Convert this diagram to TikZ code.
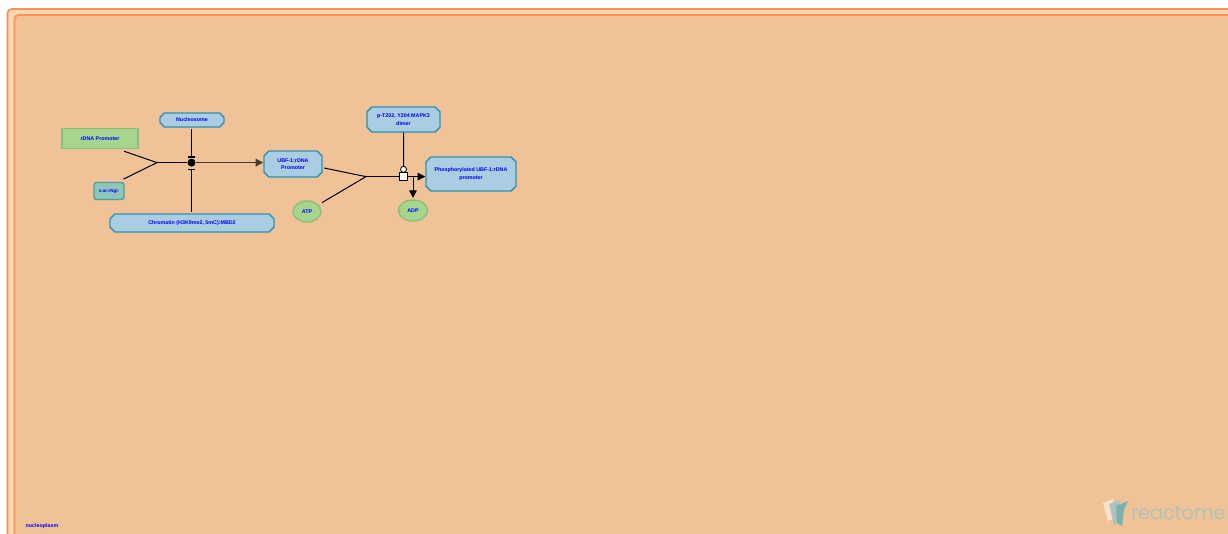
\documentclass[tikz,border=0pt]{standalone}
\usepackage{fontspec}
\setmainfont{Liberation Sans}
\newfontfamily\logofont{Poppins Light}
\usepackage{xcolor}
\usetikzlibrary{shapes.misc,shapes.geometric,arrows.meta}
\definecolor{compline}{HTML}{F9924F}
\definecolor{compouter}{HTML}{F6D6B4}
\definecolor{compinner}{HTML}{EFC298}
\definecolor{cplxfill}{HTML}{A9CEE2}
\definecolor{cplxline}{HTML}{3090B0}
\definecolor{chemfill}{HTML}{A6D68D}
\definecolor{chemline}{HTML}{8FBE7C}
\definecolor{rnafill}{HTML}{8EC7B9}
\definecolor{rnaline}{HTML}{4FA090}
\definecolor{logotext}{HTML}{A3C3BE}
\begin{document}
\begin{tikzpicture}[x=0.75pt,y=-0.75pt,>={Triangle[length=5.7pt,width=5.7pt]}]
\tikzstyle{every node}+=[inner sep=0pt,align=center,text=blue,font=\bfseries\fontsize{4}{5.6}\selectfont]
\tikzstyle{cplx}=[draw=cplxline,fill=cplxfill,line width=1.1pt,chamfered rectangle,chamfered rectangle xsep=1.8pt,chamfered rectangle ysep=1.8pt]
\tikzstyle{chem}=[draw=chemline,fill=chemfill,line width=1.1pt,ellipse]
\tikzstyle{conn}=[black,line width=0.75pt]
\useasboundingbox (0,0) rectangle (1228,533);
\fill [white] (0,0) rectangle (1228,533);
\draw [compline,fill=compouter,line width=1.2pt,rounded corners=3pt] (7.5,540) -- (7.5,9) -- (1240,9) -- (1240,540);
\draw [compline,fill=compinner,line width=1.2pt,rounded corners=3pt] (14.5,540) -- (14.5,15) -- (1240,15) -- (1240,540);
\node (nucleoplasm) at (42,526.5) {nucleoplasm};
\node (rdna) [draw=chemline,fill=chemfill,line width=1.1pt,minimum width=57pt,minimum height=15pt] at (100,138.5) {rDNA Promoter};
\node (nucleosome) [cplx,minimum width=48pt,minimum height=10.5pt] at (192,120) {Nucleosome};
\node (srna) [draw=rnaline,fill=rnafill,line width=1.1pt,rounded corners=2pt,minimum width=22.5pt,minimum height=12.75pt,font=\bfseries\fontsize{3.4}{4}\selectfont] at (109,191) {s:ar:rNgl:};
\node (chromatin) [cplx,minimum width=123pt,minimum height=13.5pt] at (192,223) {Chromatin (H3K9me2, 5mC):MBD2};
\node (ubf) [cplx,minimum width=43.5pt,minimum height=19.5pt] at (293,164) {UBF-1:rDNA\\Promoter};
\node (mapk) [cplx,minimum width=54.75pt,minimum height=18.75pt] at (403.5,119.5) {p-T202, Y204 MAPK3\\dimer};
\node (phospho) [cplx,minimum width=67.5pt,minimum height=25.5pt] at (471,174) {Phosphorylated UBF-1:rDNA\\promoter};
\node (atp) [chem,minimum width=21pt,minimum height=15.75pt] at (307,211.5) {ATP};
\node (adp) [chem,minimum width=21.75pt,minimum height=15.75pt] at (413,210.5) {ADP};
\coordinate (joinA) at (157,162.6);
\coordinate (joinB) at (366,176.6);
\coordinate (barA) at (191.5,157.5);
\coordinate (barB) at (191.5,169);
\coordinate (branch) at (413,177);
\node (dotA) [circle,fill=black,minimum size=6pt] at (191.5,162.6) {};
\node (boxB) [draw=black,fill=white,line width=0.8pt,minimum size=6.2pt] at (403.5,176.6) {};
\node (ringB) [circle,draw=black,fill=white,line width=0.6pt,minimum size=4.5pt] at (403.5,169.3) {};
\draw [conn] ([xshift=-11pt,yshift=-1.5pt]rdna.south east) -- (joinA);
\draw [conn] ([xshift=-1pt,yshift=2pt]srna.north east) -- (joinA);
\draw [conn] (joinA) -- (dotA);
\draw [black!70!compinner,line width=1.1pt,->] (dotA) -- (dotA -| ubf.west);
\draw [conn,-{Bar[width=5pt,line width=0.8pt]},shorten <=1pt] (nucleosome.south -| barA) -- (barA);
\draw [conn,-{Bar[width=5pt,line width=0.8pt]},shorten <=1pt] (chromatin.north -| barB) -- (barB);
\draw [conn] ([xshift=1pt,yshift=-3pt]ubf.east) -- (joinB);
\draw [conn,shorten <=3pt] (atp) -- (joinB);
\draw [conn] (joinB) -- (boxB);
\draw [conn] (mapk) -- (ringB);
\draw [conn,->] (boxB) -- (boxB -| phospho.west);
\draw [conn,->,shorten >=1pt] (branch) -- (adp);
\fill [compouter!70!white] (1103,503) -- (1113,499) -- (1113,519) -- (1108,521) -- cycle;
\fill [logotext!75!gray!80!white] (1109,504) -- (1120,500) -- (1120,522) -- (1114,525) -- cycle;
\fill [logotext!75!teal] (1116,506) -- (1128,501) -- (1124,510) -- (1122,526) -- (1117,523) -- cycle;
\node (logo) [anchor=base west,text=logotext,font=\logofont\fontsize{14.4}{16}\selectfont] at (1131,519.5) {reactome};
\end{tikzpicture}
\end{document}
